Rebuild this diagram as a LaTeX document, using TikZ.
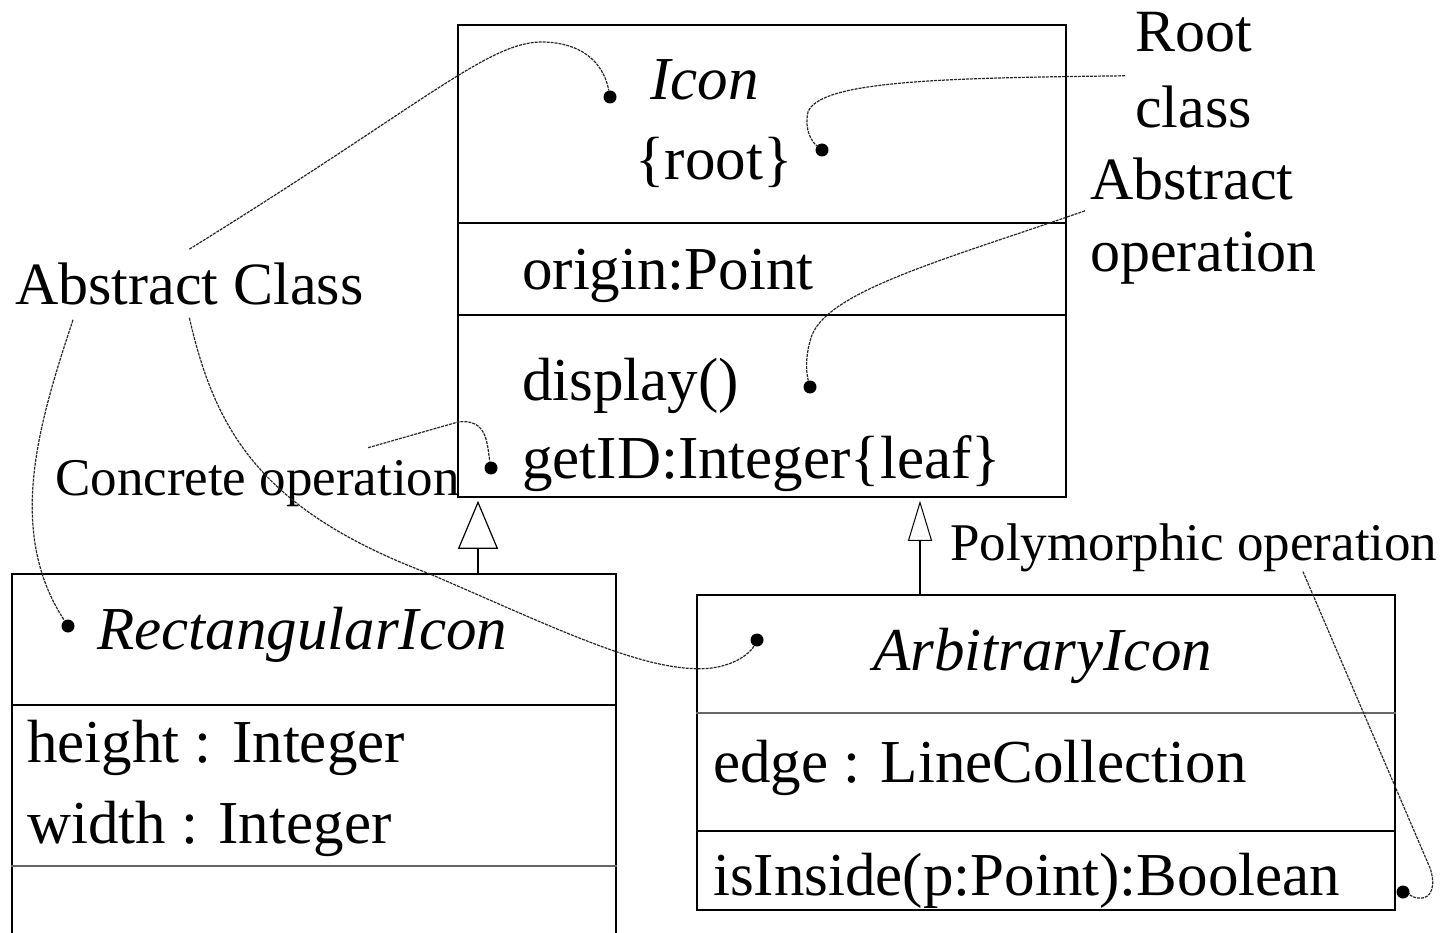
\documentclass[tikz,border=0pt]{standalone}
\usepackage{fontspec}
\setmainfont{Liberation Serif}
\usetikzlibrary{arrows.meta}
\tikzset{>=stealth,
  box/.style={draw, line width=1.6pt, inner sep=0pt},
  txt/.style={inner sep=0pt, anchor=base west, font=\fontsize{61}{70}\selectfont},
  ittxt/.style={txt, font=\fontsize{61}{70}\selectfont\itshape},
  note/.style={inner sep=0pt, anchor=base west, font=\fontsize{60}{70}\selectfont},
  smallnote/.style={note, font=\fontsize{53}{60}\selectfont},
  dot/.style={circle, fill, inner sep=0pt, minimum size=13pt},
  link/.style={line width=1.2pt, black!85, dash pattern=on 3pt off 1pt},
  gen/.style={line width=1.6pt, shorten >=3pt,
    -{Triangle[open, length=48pt, width=40pt, line width=1.2pt]}}}

\begin{document}
\begin{tikzpicture}[x=1pt,y=-1pt]
\useasboundingbox (0,0) rectangle (1441,933);
% class Icon
\node[box, minimum width=608pt, minimum height=472pt] (icon) at (762,261) {};
\draw[line width=1.6pt] (icon.west |- 0,223) -- (icon.east |- 0,223);
\draw[line width=1.6pt] (icon.west |- 0,315) -- (icon.east |- 0,315);
\node[ittxt] (iconname) at (650,100) {Icon};
\node[txt, anchor=base] (iconroot) at (714,180) {\{root\}};
\node[txt] (origin) at (522,290) {origin:Point};
\node[txt] (display) at (522,400) {display()};
\node[txt] (getid) at (522,478) {getID:Integer\{leaf\}};
% class RectangularIcon
\node[box, minimum width=604pt, minimum height=400pt] (rect) at (314,774) {};
\draw[line width=1.6pt] (rect.west |- 0,705) -- (rect.east |- 0,705);
\draw[line width=1.4pt, black!60] (rect.west |- 0,866) -- (rect.east |- 0,866);
\node[ittxt] (rectname) at (97,649) {RectangularIcon};
\node[txt] (height) at (27,762) {height : Integer};
\node[txt] (width) at (27,843) {width : Integer};
% class ArbitraryIcon
\node[box, minimum width=698pt, minimum height=315pt] (arb) at (1046,752.5) {};
\draw[line width=1.4pt, black!60] (arb.west |- 0,713) -- (arb.east |- 0,713);
\draw[line width=1.6pt] (arb.west |- 0,831) -- (arb.east |- 0,831);
\node[ittxt] (arbname) at (873,670) {ArbitraryIcon};
\node[txt] (edge) at (713,782) {edge : LineCollection};
\node[txt] (inside) at (713,895) {isInside(p:Point):Boolean};
% generalization
\path (478,0) coordinate (g1) (920,0) coordinate (g2);
\draw[gen] (rect.north -| g1) -- (icon.south -| g1);
\draw[gen, line width=1.3pt,
  -{Triangle[open, length=40pt, width=24pt, line width=1pt]}] (arb.north -| g2) -- (icon.south -| g2);
% notes
\node[note] (root) at (1135,52) {Root};
\node[note] (rootclass) at (1135,128) {class};
\node[note] (absop) at (1090,200) {Abstract};
\node[note] (absopb) at (1090,272) {operation};
\node[note] (absclass) at (15,305) {Abstract Class};
\node[smallnote] (concrete) at (55,495) {Concrete operation};
\node[smallnote] (poly) at (950,560) {Polymorphic operation};
% dots
\node[dot] (dicon) at (610,97) {};
\node[dot] (droot) at (822,150) {};
\node[dot] (ddisplay) at (810,387) {};
\node[dot] (dgetid) at (491,468) {};
\node[dot] (drect) at (68,626) {};
\node[dot] (darb) at (757,640) {};
\node[dot] (dinside) at (1403,892) {};
% links
\draw[link] ([yshift=14pt]absclass.north) .. controls (430,100) and (490,40) .. (545,42)
  .. controls (590,44) and (605,70) .. (dicon);
\draw[link] ([xshift=58pt,yshift=-14pt]absclass.south west) .. controls (40,420) and (5,530) .. (drect);
\draw[link] ([yshift=-12pt]absclass.south) .. controls (215,430) and (260,510) .. (430,574)
  .. controls (560,630) and (650,675) .. (712,668)
  .. controls (740,664) and (752,650) .. (darb);
\draw[link] ([xshift=-92pt,yshift=12pt]concrete.north east) -- (458,422)
  .. controls (488,418) and (487,445) .. (dgetid);
\draw[link] ([xshift=-10pt,yshift=-23pt]root.south west) .. controls (950,78) and (820,80) .. (808,112)
  .. controls (804,130) and (812,142) .. (droot);
\draw[link] ([xshift=-5pt,yshift=-10pt]absop.south west) .. controls (950,258) and (830,290) .. (812,335)
  .. controls (805,355) and (806,372) .. (ddisplay);
\draw[link] ([xshift=353pt]poly.south west) -- (1430,868)
  .. controls (1436,885) and (1432,900) .. (1418,898)
  .. controls (1410,897) and (1408,893) .. (dinside);
\end{tikzpicture}
\end{document}
